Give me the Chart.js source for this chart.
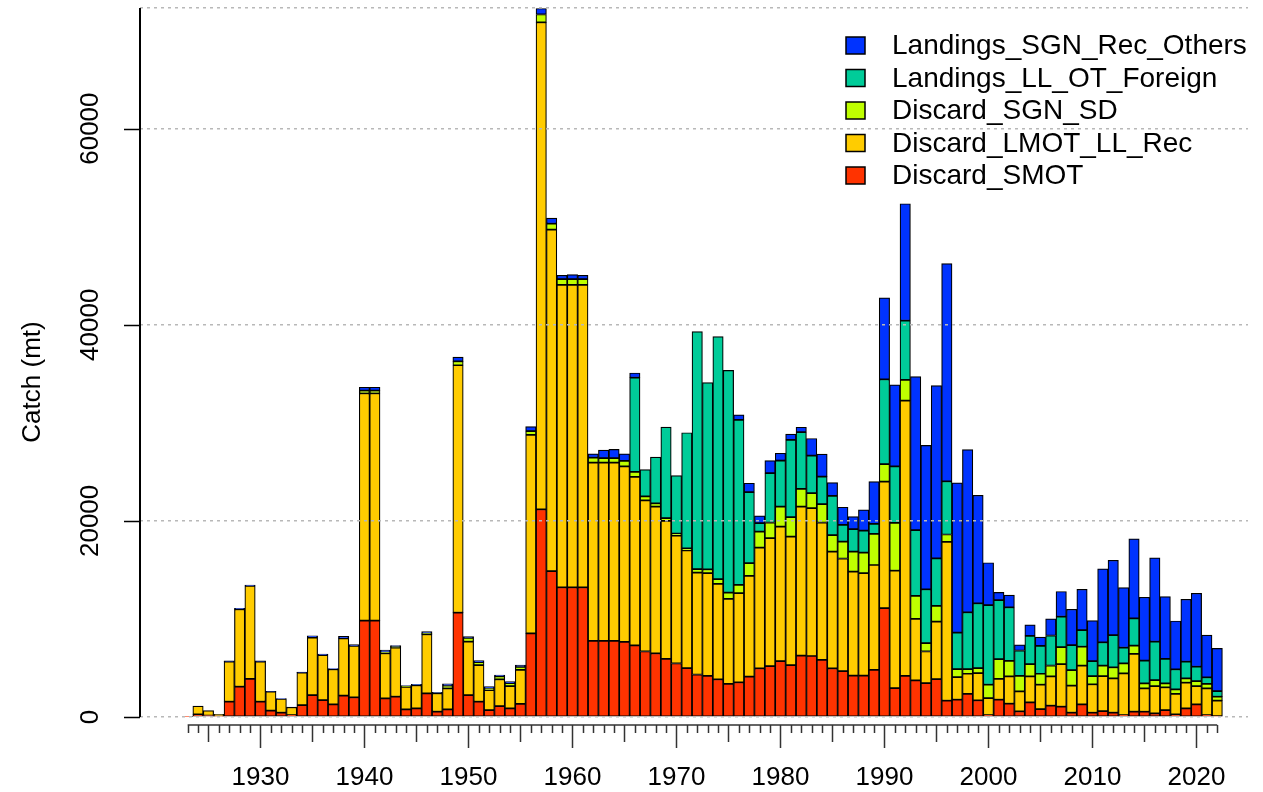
<!DOCTYPE html>
<html>
<head>
  <script src="https://cdnjs.cloudflare.com/ajax/libs/Chart.js/4.4.1/chart.umd.min.js"></script>
  <style>
    body { margin: 0; background: #fff; }
    #wrap { width: 1263px; height: 792px; }
  </style>
</head>
<body>
  <div id="wrap"><canvas id="catchChart" width="1263" height="792"></canvas></div>

  <script>
    // one bar per year
    const years = [
      1923, 1924, 1925, 1926, 1927, 1928, 1929,
      1930, 1931, 1932, 1933, 1934, 1935, 1936, 1937, 1938, 1939,
      1940, 1941, 1942, 1943, 1944, 1945, 1946, 1947, 1948, 1949,
      1950, 1951, 1952, 1953, 1954, 1955, 1956, 1957, 1958, 1959,
      1960, 1961, 1962, 1963, 1964, 1965, 1966, 1967, 1968, 1969,
      1970, 1971, 1972, 1973, 1974, 1975, 1976, 1977, 1978, 1979,
      1980, 1981, 1982, 1983, 1984, 1985, 1986, 1987, 1988, 1989,
      1990, 1991, 1992, 1993, 1994, 1995, 1996, 1997, 1998, 1999,
      2000, 2001, 2002, 2003, 2004, 2005, 2006, 2007, 2008, 2009,
      2010, 2011, 2012, 2013, 2014, 2015, 2016, 2017, 2018, 2019,
      2020, 2021, 2022
    ];

    // catch (mt) by component, stacked bottom to top
    const discardSMOT = [
      50, 270, 150, 100, 1560, 3090, 3880,
      1560, 650, 440, 200, 1220, 2240, 1730, 1290, 2180, 2010,
      9830, 9830, 1900, 2070, 780, 880, 2410, 540, 780, 10640,
      2240, 1560, 710, 1120, 880, 1330, 8530, 21180, 14870, 13230,
      13230, 13230, 7770, 7770, 7770, 7670, 7300, 6680, 6500, 5930,
      5460, 4990, 4330, 4200, 3840, 3370, 3540, 4120, 4970, 5200,
      5710, 5300, 6260, 6220, 5820, 4970, 4690, 4220, 4220, 4800,
      11100, 2950, 4200, 3730, 3460, 3860, 1660, 1760, 2370, 1700,
      200, 1760, 1360, 580, 1490, 810, 1150, 1050, 440, 1290,
      440, 610, 440, 200, 540, 540, 370, 710, 270, 880,
      1290, 200, 100
    ];
    const discardLMOT = [
      0, 850, 500, 170, 4080, 7890, 9480,
      4080, 1930, 1400, 790, 3300, 5850, 4590, 3570, 5840, 5230,
      23180, 23180, 4600, 5000, 2300, 2350, 6020, 1880, 2140, 25230,
      5440, 3740, 2040, 2720, 2280, 3470, 20230, 49660, 34830, 30830,
      30830, 30830, 18170, 18170, 18170, 17890, 17180, 15410, 14960, 14070,
      13040, 12000, 10400, 10460, 9730, 8670, 9080, 10270, 12310, 13030,
      13710, 13100, 15200, 15070, 14010, 11900, 11470, 10610, 10440, 10700,
      12900, 11970, 28070, 6270, 3220, 5870, 16210, 2310, 2040, 2770,
      1730, 2140, 2780, 2030, 2650, 2480, 2990, 4350, 2760, 3950,
      2890, 3570, 3500, 4250, 5890, 2380, 2790, 2320, 2080, 2620,
      1870, 2720, 1570
    ];
    const discardSGN = [
      0, 0, 0, 0, 0, 0, 0,
      0, 0, 0, 0, 0, 0, 0, 0, 0, 0,
      270, 270, 100, 100, 50, 50, 100, 50, 270, 400,
      400, 300, 200, 300, 300, 300, 400, 800, 600, 600,
      600, 600, 500, 450, 450, 550, 520, 410, 330, 280,
      200, 210, 360, 400, 480, 650, 850, 1290, 1630, 1600,
      2040, 1970, 1800, 1530, 1870, 1670, 1730, 2040, 2110, 3170,
      1790, 4880, 2100, 2340, 850, 1590, 740, 810, 470, 510,
      1360, 2000, 1590, 1590, 1250, 1120, 1110, 1720, 1590, 1930,
      850, 1060, 1130, 1020, 850, 510, 610, 400, 470, 440,
      510, 450, 400
    ];
    const landingsLLOT = [
      0, 0, 0, 0, 0, 0, 0,
      0, 0, 0, 0, 0, 0, 0, 0, 0, 0,
      0, 0, 0, 0, 0, 0, 0, 0, 0, 0,
      0, 0, 0, 0, 0, 0, 0, 0, 0, 0,
      0, 0, 0, 0, 0, 0, 9600, 2730, 4710, 9280,
      5920, 11790, 24210, 19040, 24750, 22650, 16830, 7240, 850, 5030,
      4690, 7890, 5780, 3840, 2820, 4010, 1700, 2280, 2240, 1020,
      8650, 5760, 6040, 6710, 5490, 4850, 5430, 3730, 5800, 6610,
      8130, 6030, 5460, 2580, 2880, 2840, 3060, 3110, 2550, 1700,
      1530, 2380, 3290, 1600, 2780, 2320, 3910, 2490, 2040, 1700,
      1460, 680, 580
    ];
    const landingsSGNRec = [
      0, 0, 0, 0, 80, 100, 100,
      80, 50, 50, 30, 60, 200, 100, 80, 200, 150,
      350, 350, 230, 110, 70, 50, 170, 50, 180, 420,
      110, 150, 140, 140, 140, 200, 450, 610, 580, 380,
      450, 380, 390, 820, 900, 720, 480, 0, 0, 0,
      0, 0, 0, 0, 0, 0, 510, 920, 750, 1290,
      750, 580, 510, 1740, 2280, 1360, 1800, 1290, 2110, 4320,
      8300, 8310, 11930, 15660, 14680, 17630, 22200, 15260, 16580, 11020,
      4310, 780, 1250, 580, 1120, 890, 1690, 2570, 3640, 4150,
      4120, 7480, 7620, 6120, 8100, 6460, 8540, 6350, 4930, 6360,
      7480, 4310, 4350
    ];

    const seriesNames = ['Discard_SMOT', 'Discard_LMOT_LL_Rec', 'Discard_SGN_SD', 'Landings_LL_OT_Foreign', 'Landings_SGN_Rec_Others'];
    const seriesData = [discardSMOT, discardLMOT, discardSGN, landingsLLOT, landingsSGNRec];
    const seriesColors = ['#FF3300', '#FFCC00', '#BFFF00', '#00CC99', '#0033FF'];

    const yTicks = [0, 20000, 40000, 60000];
    const yMax = 72300;
    const xLabelYears = [1930, 1940, 1950, 1960, 1970, 1980, 1990, 2000, 2010, 2020];
    const yTitle = 'Catch (mt)';

    const FONT = "'Liberation Sans', Arial, sans-serif";

    // R style axes: y axis line + ticks, year axis below the bars
    // (short tick every year, longer every 5 and 10 years), y title
    const rAxes = {
      id: 'rAxes',
      afterDraw(chart) {
        const xs = chart.scales.x, ys = chart.scales.y, ctx = chart.ctx;
        const area = chart.chartArea;
        ctx.save();

        // y axis
        ctx.strokeStyle = '#000';
        ctx.lineWidth = 2;
        ctx.beginPath();
        ctx.moveTo(area.left, area.top);
        ctx.lineTo(area.left, area.bottom);
        ctx.stroke();
        ctx.lineWidth = 1.5;
        ctx.beginPath();
        yTicks.forEach(v => {
          const y = Math.round(ys.getPixelForValue(v)) + 0.5;
          ctx.moveTo(area.left - 16, y);
          ctx.lineTo(area.left, y);
        });
        ctx.stroke();

        // year axis
        const top = area.bottom + 8;
        ctx.strokeStyle = '#333';
        ctx.beginPath();
        ctx.moveTo(xs.getPixelForValue(years[0]), top);
        ctx.lineTo(xs.getPixelForValue(years[years.length - 1]), top);
        years.forEach(yr => {
          const x = Math.round(xs.getPixelForValue(yr)) + 0.5;
          const len = yr % 10 === 0 ? 23 : (yr % 5 === 0 ? 17 : 8);
          ctx.moveTo(x, top);
          ctx.lineTo(x, top + len);
        });
        ctx.stroke();

        // y title
        ctx.translate(33, 382);
        ctx.rotate(-Math.PI / 2);
        ctx.fillStyle = '#000';
        ctx.font = '26px ' + FONT;
        ctx.textAlign = 'center';
        ctx.textBaseline = 'middle';
        ctx.fillText(yTitle, 0, 0);
        ctx.restore();
      }
    };

    // legend in the top right corner, clipped at the plot edge like the original
    const legendBox = {
      id: 'legendBox',
      afterDraw(chart) {
        const { ctx, chartArea } = chart;
        ctx.save();
        ctx.beginPath();
        ctx.rect(0, 0, chartArea.right, chart.height);
        ctx.clip();
        ctx.font = '28px ' + FONT;
        ctx.textBaseline = 'middle';
        ctx.textAlign = 'left';
        for (let k = 0; k < seriesNames.length; k++) {
          const i = seriesNames.length - 1 - k;
          const cy = 45.5 + k * 32.5;
          ctx.fillStyle = seriesColors[i];
          ctx.fillRect(846, cy - 8.5, 19, 17);
          ctx.strokeStyle = '#000';
          ctx.lineWidth = 1.5;
          ctx.strokeRect(846, cy - 8.5, 19, 17);
          ctx.fillStyle = '#000';
          ctx.fillText(seriesNames[i], 892, cy + 1);
        }
        ctx.restore();
      }
    };

    // fixed scale sizes, no extra label padding pushed into the layout
    function fixBox(s, w, h) {
      if (w) s.width = w;
      if (h) s.height = h;
      s.paddingTop = 0;
      s.paddingBottom = 0;
      s.paddingLeft = 0;
      s.paddingRight = 0;
    }

    new Chart(document.getElementById('catchChart'), {
      type: 'bar',
      data: {
        labels: years,
        datasets: seriesData.map((d, i) => ({
          label: seriesNames[i],
          data: d,
          backgroundColor: seriesColors[i],
          borderColor: '#000',
          borderWidth: 1.2,
          borderSkipped: false
        }))
      },
      options: {
        responsive: false,
        animation: false,
        events: [],
        layout: { padding: { top: 8, right: 15, bottom: 0, left: 0 } },
        datasets: { bar: { barPercentage: 1, categoryPercentage: 1 } },
        plugins: { legend: { display: false }, tooltip: { enabled: false } },
        scales: {
          x: {
            type: 'linear',
            stacked: true,
            min: 1918.42,
            max: 2024.96,
            offset: false,
            grid: { display: false },
            border: { display: false },
            afterBuildTicks: s => { s.ticks = xLabelYears.map(v => ({ value: v })); },
            afterFit: s => fixBox(s, 0, 75),
            ticks: {
              autoSkip: false,
              maxRotation: 0,
              padding: 37,
              color: '#000',
              font: { family: FONT, size: 26 },
              callback: v => String(v)
            }
          },
          y: {
            stacked: true,
            min: 0,
            max: yMax,
            afterBuildTicks: s => { s.ticks = yTicks.concat([yMax]).map(v => ({ value: v })); },
            afterFit: s => fixBox(s, 140, 0),
            grid: {
              z: 1,
              color: '#b8b8b8',
              lineWidth: 1.5,
              drawTicks: false
            },
            border: { display: false, dash: [3, 4] },
            ticks: {
              minRotation: 90,
              maxRotation: 90,
              crossAlign: 'center',
              padding: 13,
              color: '#000',
              font: { family: FONT, size: 26 },
              callback: v => v === yMax ? '' : String(v)
            }
          }
        }
      },
      plugins: [rAxes, legendBox]
    });
  </script>
</body>
</html>
